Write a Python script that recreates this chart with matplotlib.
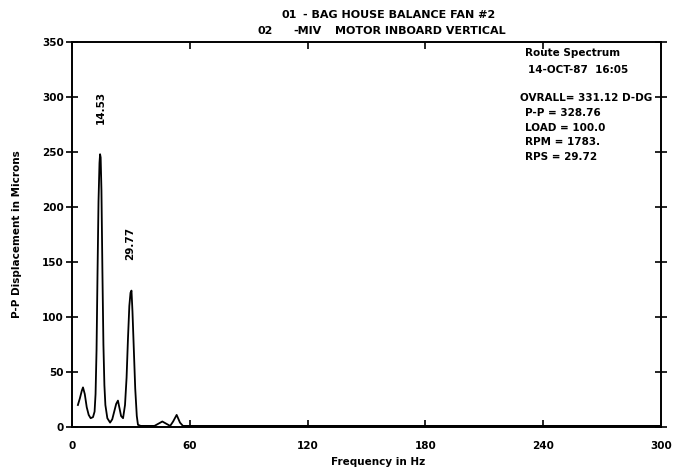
import matplotlib
matplotlib.use("Agg")
import matplotlib.pyplot as plt

plt.rcParams['font.family'] = ['DejaVu Sans']
plt.rcParams['font.weight'] = 'bold'

# Spectrum (frequency in Hz, P-P displacement in microns)
freq = [3.0, 4.0, 5.0, 5.6, 6.5, 7.5, 8.5, 9.5, 10.7, 11.5, 12.0, 12.5, 13.0,
        13.5, 14.0, 14.3, 14.6, 15.0, 15.5, 16.0, 16.5, 17.0, 18.0, 19.4, 20.5,
        21.5, 22.5, 23.4, 24.2, 25.0, 26.0, 27.0, 27.8, 28.5, 29.2, 29.8, 30.3,
        30.8, 31.5, 32.2, 33.0, 33.6, 35.0, 38.0, 42.0, 44.0, 46.0, 48.0, 50.0,
        51.5, 53.3, 55.0, 56.5, 58.0, 60.0, 80.0, 100.0, 120.0, 140.0, 160.0,
        180.0, 200.0, 220.0, 240.0, 260.0, 280.0, 300.0]
amp = [20, 26, 33, 36, 30, 18, 11, 8, 9, 14, 30, 70, 140,
       205, 240, 248, 245, 215, 140, 75, 38, 20, 8, 4, 7,
       14, 21, 24, 17, 10, 8, 20, 45, 80, 110, 122, 124,
       105, 70, 35, 10, 2, 1, 1, 1, 3, 5, 3, 1,
       5, 11, 4, 1, 1, 1, 1, 1, 1, 1, 1,
       1, 1, 1, 1, 1, 1, 1]

peak_freqs = [14.53, 29.77]
peak_labels = ["14.53", "29.77"]
peak_label_y = [275, 152]

x_ticks = [0, 60, 120, 180, 240, 300]
y_ticks = [0, 50, 100, 150, 200, 250, 300, 350]

title1 = ["01", "- BAG HOUSE BALANCE FAN #2"]
title2 = ["02", "-MIV", "MOTOR INBOARD VERTICAL"]
info_lines = ["Route Spectrum", "14-OCT-87  16:05"]
overall = "OVRALL= 331.12 D-DG"
info_lines2 = ["P-P = 328.76", "LOAD = 100.0", "RPM = 1783.", "RPS = 29.72"]

FS = 7.5
FS_T = 8
W, H = 680, 468

def fx(px):
    return px / W

def fy(py):
    return 1 - py / H

fig = plt.figure(figsize=(6.8, 4.68), dpi=100)
ax = fig.add_axes([fx(72), fy(427), (661 - 72) / W, (427 - 42) / H])

ax.plot(freq, amp, color='black', lw=1.3)
ax.set_xlim(0, 300)
ax.set_ylim(0, 350)
ax.set_xticks(x_ticks)
ax.set_yticks(y_ticks)
ax.tick_params(axis='x', direction='in', top=True, length=5, width=1.2,
               labelsize=FS, pad=10)
ax.tick_params(axis='y', direction='inout', right=True, length=8, width=1.2,
               labelsize=FS, pad=2)
for lab in ax.get_xticklabels() + ax.get_yticklabels():
    lab.set_fontweight('bold')
for s in ax.spines.values():
    s.set_linewidth(1.4)

for f, lab, yy in zip(peak_freqs, peak_labels, peak_label_y):
    ax.text(f, yy, lab, rotation=90, ha='center', va='bottom',
            fontsize=FS, fontweight='bold')

ax.set_xlabel("Frequency in Hz", fontsize=FS, fontweight='bold')
ax.xaxis.set_label_coords(0.52, (427 - 462) / (427 - 42))
ax.xaxis.label.set_va('center')
ax.set_ylabel("P-P Displacement in Microns", fontsize=FS, fontweight='bold')
ax.yaxis.set_label_coords((17 - 72) / (661 - 72), 0.5)
ax.yaxis.label.set_va('center')

# Title lines (pieces placed where they sit in the original printout)
t1_x = [282, 303]
t2_x = [258, 293, 335]
for s, x in zip(title1, t1_x):
    fig.text(fx(x), fy(15), s, ha='left', va='center', fontsize=FS_T)
for s, x in zip(title2, t2_x):
    fig.text(fx(x), fy(31.5), s, ha='left', va='center', fontsize=FS_T)

fig.text(fx(525), fy(53), info_lines[0], ha='left', va='center', fontsize=FS)
fig.text(fx(528), fy(70), info_lines[1], ha='left', va='center', fontsize=FS)
fig.text(fx(520), fy(98), overall, ha='left', va='center', fontsize=FS)
for i, line in enumerate(info_lines2):
    fig.text(fx(525), fy(113 + 14.7 * i), line, ha='left', va='center',
             fontsize=FS)

fig.savefig("out.png", dpi=100)
